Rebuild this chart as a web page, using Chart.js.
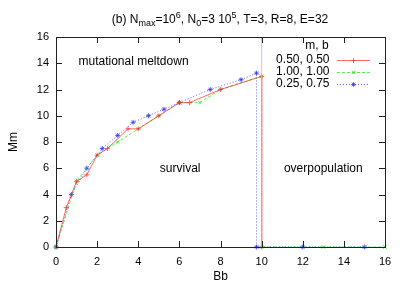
<!DOCTYPE html>
<html><head><meta charset="utf-8">
<script src="https://cdn.jsdelivr.net/npm/chart.js@4/dist/chart.umd.min.js"></script>
<style>html,body{margin:0;padding:0;background:#fff}#wrap{width:407px;height:285px}</style>
</head><body><div id="wrap"><canvas id="c" width="407" height="285"></canvas></div>
<script>
const redX = [0,0.5,1,1.5,2,2.5,3.5,4,5,6,6.5,8,10,10];
const redY = [0,3,5,5.5,7,7.5,9,9,10,11,11,12,13,0];
const greenX = [0,1,2,3,4,5,6,7,8,10,10,13,16];
const greenY = [0,5,7,8,9,10,11,11,12,13,0,0,0];
const blueX = [0,0.75,1.5,2.25,3,3.75,4.5,5.25,6,7.5,9,9.75,9.75,12,15];
const blueY = [0,4,6,7.5,8.5,9.5,10,10.5,11,12,12.75,13.25,0,0,0];
const boundaryX = [10,10];
const boundaryY = [0,16];
const seriesLabels = ['0.50, 0.50','1.00, 1.00','0.25, 0.75'];
const legendTitle = 'm, b';
const xTicks = [0,2,4,6,8,10,12,14,16];
const yTicks = [0,2,4,6,8,10,12,14,16];
const regionLabels = [
  {text:'mutational meltdown', x:3.77, y:14.1},
  {text:'survival', x:6.04, y:5.98},
  {text:'overpopulation', x:13.0, y:5.98}
];

const pts = (xs, ys) => xs.map((x,i)=>({x, y:ys[i]}));
const FONT = '"Liberation Sans", Arial, sans-serif';

const styles = [
  {color:'rgba(255,40,40,0.7)', dash:[], point:'cross', r:2.5},
  {color:'rgba(30,230,30,0.75)', dash:[3,2], point:'crossRot', r:2.5},
  {color:'rgba(40,40,255,0.7)', dash:[1,2], point:'star', r:2.5}
];

const datasets = [
  {data:pts(redX, redY)},
  {data:pts(greenX, greenY)},
  {data:pts(blueX, blueY)}
].map((d,i)=>Object.assign(d,{
  label: seriesLabels[i], showLine:true, borderColor:styles[i].color, backgroundColor:styles[i].color,
  borderWidth:1, borderDash:styles[i].dash, pointStyle:styles[i].point, pointRadius:styles[i].r,
  pointBorderWidth:1, pointBorderColor:styles[i].color, clip:false, order:2
}));
datasets.push({label:'boundary', data:pts(boundaryX, boundaryY), showLine:true,
  borderColor:'rgba(245,160,245,0.9)', borderWidth:1, pointRadius:0, order:1});

const deco = {
  id:'deco',
  afterDraw(chart){
    const ctx = chart.ctx, a = chart.chartArea, xs = chart.scales.x, ys = chart.scales.y;
    ctx.save();
    ctx.strokeStyle = '#222'; ctx.lineWidth = 1;
    ctx.strokeRect(Math.round(a.left)+0.5, Math.round(a.top)+0.5, Math.round(a.right-a.left), Math.round(a.bottom-a.top));
    ctx.beginPath();
    xTicks.forEach(v=>{ const px = Math.round(xs.getPixelForValue(v))+0.5;
      ctx.moveTo(px,a.bottom); ctx.lineTo(px,a.bottom-6); ctx.moveTo(px,a.top); ctx.lineTo(px,a.top+6);});
    yTicks.forEach(v=>{ const py = Math.round(ys.getPixelForValue(v))+0.5;
      ctx.moveTo(a.left,py); ctx.lineTo(a.left+6,py); ctx.moveTo(a.right,py); ctx.lineTo(a.right-6,py);});
    ctx.stroke();
    ctx.fillStyle = '#000'; ctx.font = '12px '+FONT; ctx.textAlign='center'; ctx.textBaseline='middle';
    regionLabels.forEach(r=>ctx.fillText(r.text, xs.getPixelForValue(r.x), ys.getPixelForValue(r.y)));
    ctx.fillText('Bb', (a.left+a.right)/2, 277);
    ctx.save(); ctx.translate(14, (a.top+a.bottom)/2); ctx.rotate(-Math.PI/2); ctx.fillText('Mm',0,0); ctx.restore();
    const segs = [['(b) N',0],['max',1],['=10',0],['6',2],[', N',0],['0',1],['=3 10',0],['5',2],[', T=3, R=8, E=32',0]];
    const big = '12px '+FONT, small = '9px '+FONT;
    let w = 0; segs.forEach(s=>{ctx.font = s[1]?small:big; w += ctx.measureText(s[0]).width;});
    let x = 220 - w/2; const base = 22.5;
    ctx.textAlign='left'; ctx.textBaseline='alphabetic';
    segs.forEach(s=>{ ctx.font = s[1]?small:big; const dy = s[1]===1?3.5:(s[1]===2?-5:0);
      ctx.fillText(s[0], x, base+dy); x += ctx.measureText(s[0]).width;});
    ctx.font = '12px '+FONT; ctx.textAlign='center'; ctx.textBaseline='middle';
    ctx.fillText(legendTitle, 317, 46);
    ctx.textAlign='right';
    const ly = [59.5, 72, 84];
    seriesLabels.forEach((t,i)=>{
      ctx.fillStyle='#000'; ctx.fillText(t, 329.5, ly[i]);
      ctx.strokeStyle = styles[i].color; ctx.lineWidth=1; ctx.setLineDash(styles[i].dash);
      ctx.beginPath(); ctx.moveTo(337, Math.round(ly[i])+0.5); ctx.lineTo(370, Math.round(ly[i])+0.5); ctx.stroke();
      ctx.setLineDash([]);
      ctx.save(); ctx.strokeStyle = styles[i].color; ctx.fillStyle = styles[i].color;
      Chart.helpers.drawPoint(ctx, {pointStyle:styles[i].point, radius:styles[i].r, borderWidth:1, rotation:0}, 353.5, Math.round(ly[i])+0.5);
      ctx.restore();
    });
    ctx.restore();
  }
};

new Chart(document.getElementById('c'), {
  type:'scatter',
  data:{datasets},
  options:{
    responsive:false, animation:false, devicePixelRatio:1,
    layout:{padding:{top:37, right:22, left:0, bottom:0}},
    plugins:{legend:{display:false}, tooltip:{enabled:false}},
    scales:{
      x:{type:'linear', min:0, max:16, afterFit(s){s.height=38;},
        afterBuildTicks(s){s.ticks = xTicks.map(v=>({value:v}));},
        grid:{display:false, drawTicks:false}, border:{display:false},
        ticks:{color:'#000', font:{family:FONT, size:11}, padding:8, maxRotation:0}},
      y:{type:'linear', min:0, max:16, afterFit(s){s.width=56;},
        afterBuildTicks(s){s.ticks = yTicks.map(v=>({value:v}));},
        grid:{display:false, drawTicks:false}, border:{display:false},
        ticks:{color:'#000', font:{family:FONT, size:11}, padding:7}}
    }
  },
  plugins:[{id:'pre', beforeDraw(chart){
    const ctx=chart.ctx; ctx.save(); ctx.fillStyle='#fff'; ctx.fillRect(0,0,chart.width,chart.height); ctx.restore();
  }}, deco]
});
</script>
</body></html>
